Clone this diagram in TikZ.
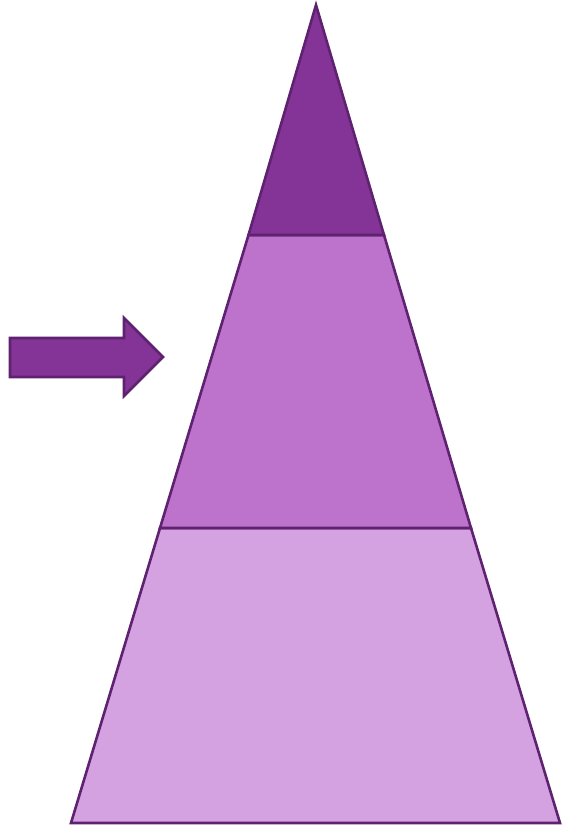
\documentclass[tikz,border=0pt]{standalone}
\definecolor{edge}{HTML}{5E2270}
\definecolor{topc}{HTML}{843396}
\definecolor{midc}{HTML}{BD73CC}
\definecolor{lowc}{HTML}{D4A2E0}
\begin{document}
\begin{tikzpicture}[x=1pt,y=-1pt,
  layer/.style={draw=edge,line width=2.6pt,line join=miter}]
\useasboundingbox (0,0) rectangle (562,827);
\coordinate (apex) at (316,5);
\coordinate (tl) at (248.5,235);
\coordinate (tr) at (384,235);
\coordinate (ml) at (160,528);
\coordinate (mr) at (471,528);
\coordinate (bl) at (71,823);
\coordinate (br) at (560,823);
\draw[layer,fill=lowc] (ml) -- (mr) -- (br) -- (bl) -- cycle;
\draw[layer,fill=midc] (tl) -- (tr) -- (mr) -- (ml) -- cycle;
\draw[layer,fill=topc] (apex) -- (tr) -- (tl) -- cycle;
\draw[layer,fill=topc] (10,338) -- (124,338) -- (124,318) -- (163,357) -- (124,396) -- (124,377) -- (10,377) -- cycle;
\end{tikzpicture}
\end{document}
